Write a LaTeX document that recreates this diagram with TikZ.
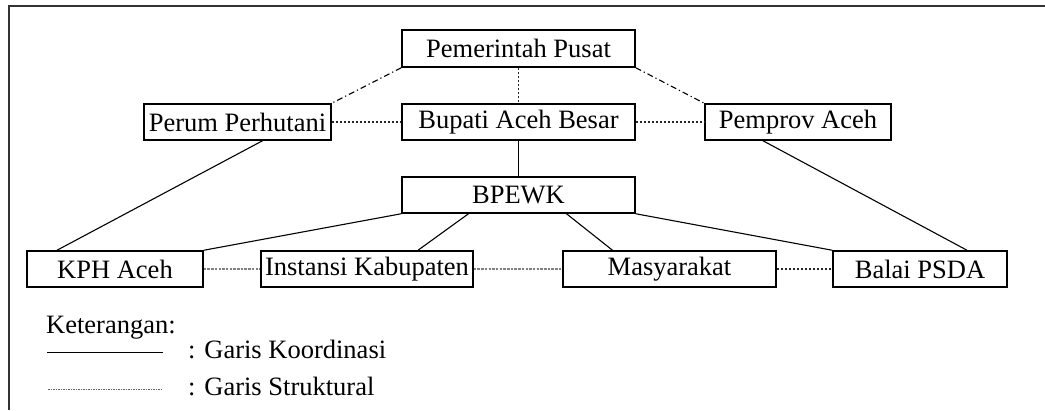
\documentclass[tikz,border=0pt]{standalone}
\usepackage{fontspec}
\setmainfont{Liberation Serif}
\usetikzlibrary{positioning}

\tikzset{
  lembaga/.style={draw, line width=1.5pt, inner sep=0pt, minimum height=36pt,
    font=\fontsize{26.5}{30}\selectfont},
  koordinasi/.style={line width=1.1pt},
  struktural/.style={line width=1.2pt, color=black!85, dash pattern=on 2.5pt off 1.5pt},
  strukturalpucat/.style={line width=1.2pt, color=black!50, dash pattern=on 2.5pt off 1.2pt},
  pusatline/.style={line width=1.1pt, dash pattern=on 6pt off 3pt on 1.2pt off 3pt},
  ket/.style={anchor=base west, inner sep=0pt, font=\fontsize{26.5}{30}\selectfont}
}

\begin{document}
\begin{tikzpicture}[x=1pt,y=-1pt]
\useasboundingbox (0,0) rectangle (1045,410);

%Frame
\draw [line width=1.5pt, color=black!80] (9,410) -- (9,6) -- (1045,6);

%Boxes
\node [lembaga, minimum width=233pt, minimum height=37pt] (pusat) at (518.5,48.5) {Pemerintah Pusat};
\node [lembaga, minimum width=187pt] (perum) at (237.5,122) {Perum Perhutani};
\node [lembaga, minimum width=233pt] (bupati) at (518.5,122) {Bupati Aceh Besar};
\node [lembaga, minimum width=186pt] (pemprov) at (798,122) {Pemprov Aceh};
\node [lembaga, minimum width=233pt] (bpewk) at (518.5,195) {BPEWK};
\node [lembaga, minimum width=176pt] (kph) at (115,269) {KPH Aceh};
\node [lembaga, minimum width=212pt] (instansi) at (367,269) {Instansi Kabupaten};
\node [lembaga, minimum width=213pt] (masy) at (669.5,269) {Masyarakat};
\node [lembaga, minimum width=174pt] (balai) at (920,269) {Balai PSDA};

%Lines from Pemerintah Pusat
\draw [pusatline] (pusat.south west) -- (perum.north east);
\draw [pusatline] (pusat.south east) -- (pemprov.north west);
\draw [struktural] (pusat.south) -- (bupati.north);

%Struktural
\draw [struktural] (perum.east) -- (bupati.west);
\draw [struktural] (bupati.east) -- (pemprov.west);
\draw [strukturalpucat] (kph.east) -- (instansi.west);
\draw [strukturalpucat] (instansi.east) -- (masy.west);
\draw [struktural] (masy.east) -- (balai.west);

%Koordinasi
\draw [koordinasi] (bupati.south) -- (bpewk.north);
\draw [koordinasi] ([xshift=25pt]perum.south) -- ([xshift=-58pt]kph.north);
\draw [koordinasi] ([xshift=-35pt]pemprov.south) -- ([xshift=47pt]balai.north);
\draw [koordinasi] (bpewk.south west) -- (kph.north east);
\draw [koordinasi] ([xshift=-50pt]bpewk.south) -- ([xshift=51pt]instansi.north);
\draw [koordinasi] ([xshift=48pt]bpewk.south) -- ([xshift=-57pt]masy.north);
\draw [koordinasi] (bpewk.south east) -- (balai.north west);

% Legend
\node [ket] (keterangan) at (46,333) {Keterangan:};
\coordinate (k1) at (47,352);
\coordinate (k2) at (163,352);
\coordinate (s1) at (48,389);
\coordinate (s2) at (163,389);
\draw [line width=0.8pt] (k1) -- (k2);
\draw [line width=0.8pt, color=black!60, dash pattern=on 1.5pt off 1pt] (s1) -- (s2);
\node [ket] (ketkoord) at (188,358) {: Garis Koordinasi};
\node [ket] (ketstruk) at (188,395) {: Garis Struktural};

\end{tikzpicture}
\end{document}
